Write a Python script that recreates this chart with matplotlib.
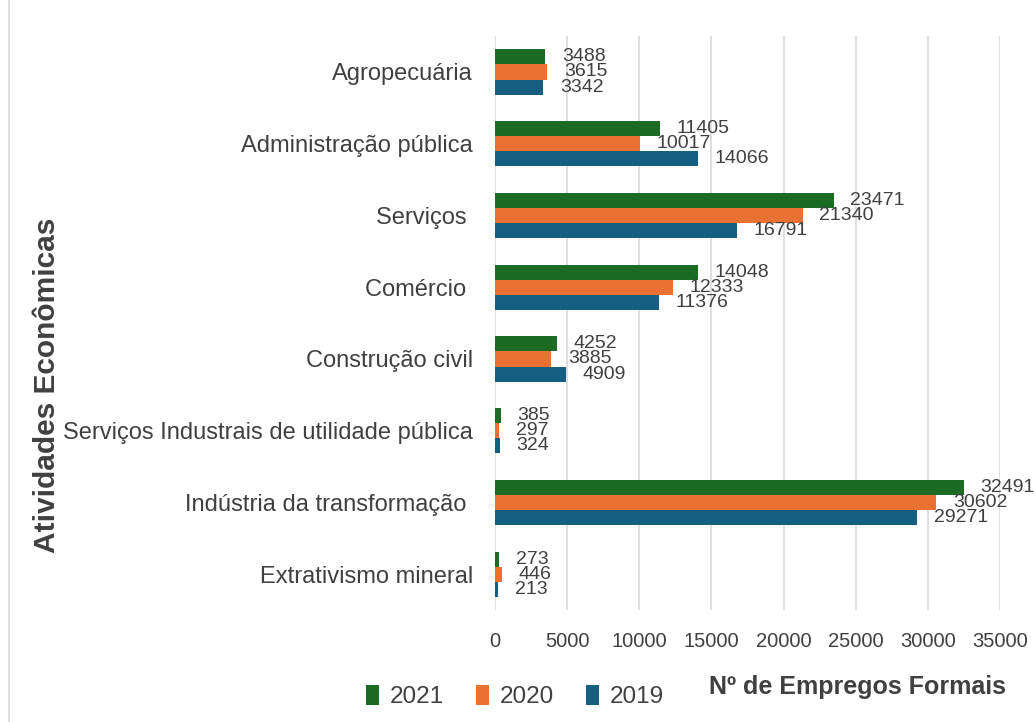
import numpy as np
import matplotlib.pyplot as plt
from matplotlib.patches import Rectangle

plt.rcParams['font.family'] = ['Liberation Sans', 'DejaVu Sans']

# categories, top to bottom as shown
categories = ['Agropecuária', 'Administração pública', 'Serviços ', 'Comércio ',
              'Construção civil', 'Serviços Industrais de utilidade pública',
              'Indústria da transformação ', 'Extrativismo mineral']
v2021 = [3488, 11405, 23471, 14048, 4252, 385, 32491, 273]
v2020 = [3615, 10017, 21340, 12333, 3885, 297, 30602, 446]
v2019 = [3342, 14066, 16791, 11376, 4909, 324, 29271, 213]
years = ['2021', '2020', '2019']
colors = ['#1B6B25', '#E97132', '#156082']
xticks = [0, 5000, 10000, 15000, 20000, 25000, 30000, 35000]

text_col = '#404040'

fig = plt.figure(figsize=(10.36, 7.22), dpi=100)
ax = fig.add_axes([0.478, 0.155, 0.487, 0.795])

y = np.arange(len(categories))
h = 0.21
series = [v2021, v2020, v2019]
for i, (vals, col, yr) in enumerate(zip(series, colors, years)):
    pos = y + (i - 1) * h
    ax.barh(pos, vals, height=h, color=col, label=yr, zorder=3)
    for p, v in zip(pos, vals):
        ax.annotate(str(v), (v, p), xytext=(12, 0), textcoords='offset points',
                    va='center', ha='left', fontsize=14, color=text_col)

ax.set_ylim(len(categories) - 0.5, -0.5)
ax.set_xlim(0, 35000)
ax.set_xticks(xticks)
ax.set_xticklabels([str(t) for t in xticks], fontsize=14.5, color=text_col)
ax.set_yticks(y)
ax.set_yticklabels(categories, fontsize=17, color=text_col)
ax.tick_params(axis='both', length=0)
ax.tick_params(axis='x', pad=16)
ax.tick_params(axis='y', pad=16)
ax.grid(axis='x', color='#D9D9D9', linewidth=1.2, zorder=0)
for s in ax.spines.values():
    s.set_visible(False)

fig.text(0.045, 0.467, 'Atividades Econômicas', rotation=90, ha='center', va='center',
         fontsize=21.5, fontweight='bold', color=text_col)
fig.text(0.828, 0.048, 'Nº de Empregos Formais', ha='center', va='center',
         fontsize=18, fontweight='bold', color=text_col)

fig.legend(loc='center', bbox_to_anchor=(0.497, 0.035), ncol=3, frameon=False,
           fontsize=17.5, handlelength=0.55, handleheight=0.9, handletextpad=0.45,
           columnspacing=1.3, labelcolor=text_col)

fig.patches.append(Rectangle((0.009, -0.01), 1.2, 1.2, transform=fig.transFigure,
                             fill=False, edgecolor='#D9D9D9', linewidth=1.2))

fig.savefig('out.png', dpi=100)
